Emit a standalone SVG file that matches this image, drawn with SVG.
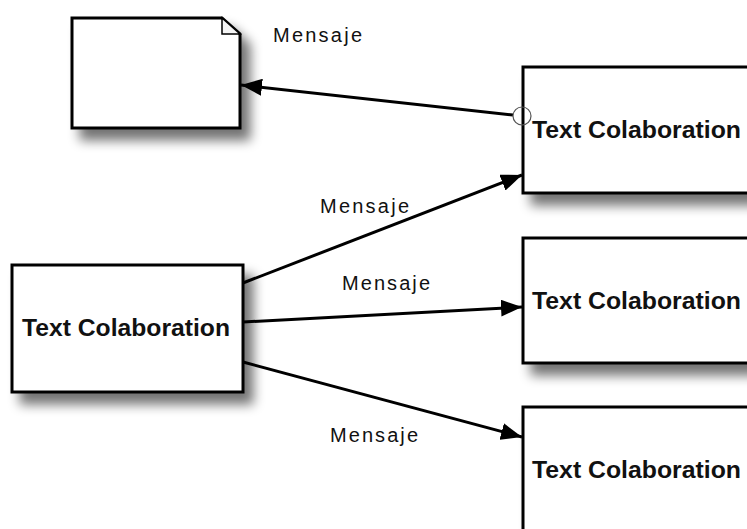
<svg xmlns="http://www.w3.org/2000/svg" width="747" height="529" viewBox="0 0 747 529">
<defs>
<filter id="sh" x="-20%" y="-20%" width="150%" height="160%">
<feGaussianBlur in="SourceAlpha" stdDeviation="6"/>
<feOffset dx="9" dy="11" result="b"/>
<feComponentTransfer><feFuncA type="linear" slope="0.55"/></feComponentTransfer>
<feMerge><feMergeNode/><feMergeNode in="SourceGraphic"/></feMerge>
</filter>
<marker id="arr" viewBox="0 0 21 17" refX="21" refY="8.5" markerWidth="21" markerHeight="17" markerUnits="userSpaceOnUse" orient="auto">
<path d="M0,0 L21,8.5 L0,17 z" fill="#000"/>
</marker>
</defs>
<style>
.box{fill:#fff;stroke:#000;stroke-width:3}
.lbl{font-family:"Liberation Sans",Arial,sans-serif;font-size:20px;fill:#111}
.nt{font-family:"Liberation Sans",Arial,sans-serif;font-size:23px;font-weight:bold;fill:#111}
.con{stroke:#000;stroke-width:3;fill:none;marker-end:url(#arr)}
</style>
<rect width="747" height="529" fill="#fff"/>
<g id="note">
<path class="box" filter="url(#sh)" d="M72,18 L222,18 L240,34 L240,128 L72,128 z"/>
<path d="M222,18 L222,34 L240,34 z" fill="#f4f4f4" stroke="#000" stroke-width="1.5"/>
</g>
<g id="node-left">
<rect class="box" filter="url(#sh)" x="12" y="265" width="231" height="127"/>
<text class="nt" x="22" y="336" textLength="208" lengthAdjust="spacingAndGlyphs">Text Colaboration</text>
</g>
<g id="node-1">
<rect class="box" filter="url(#sh)" x="523" y="67" width="240" height="126"/>
<text class="nt" x="532" y="138" textLength="209" lengthAdjust="spacingAndGlyphs">Text Colaboration</text>
</g>
<g id="node-2">
<rect class="box" filter="url(#sh)" x="523" y="238" width="240" height="125"/>
<text class="nt" x="532" y="309" textLength="209" lengthAdjust="spacingAndGlyphs">Text Colaboration</text>
</g>
<g id="node-3">
<rect class="box" filter="url(#sh)" x="523" y="407" width="240" height="140"/>
<text class="nt" x="532" y="478" textLength="209" lengthAdjust="spacingAndGlyphs">Text Colaboration</text>
</g>
<g id="connectors">
<line class="con" x1="513" y1="115" x2="241" y2="85"/>
<circle cx="522" cy="116" r="9" fill="none" stroke="#555" stroke-width="1.2"/>
<line class="con" x1="243" y1="283" x2="522" y2="175"/>
<line class="con" x1="243" y1="322" x2="522" y2="307"/>
<line class="con" x1="243" y1="362" x2="522" y2="437"/>
<text class="lbl" x="273" y="42" textLength="89" lengthAdjust="spacing">Mensaje</text>
<text class="lbl" x="320" y="213" textLength="89" lengthAdjust="spacing">Mensaje</text>
<text class="lbl" x="342" y="290" textLength="88" lengthAdjust="spacing">Mensaje</text>
<text class="lbl" x="330" y="442" textLength="88" lengthAdjust="spacing">Mensaje</text>
</g>
</svg>
